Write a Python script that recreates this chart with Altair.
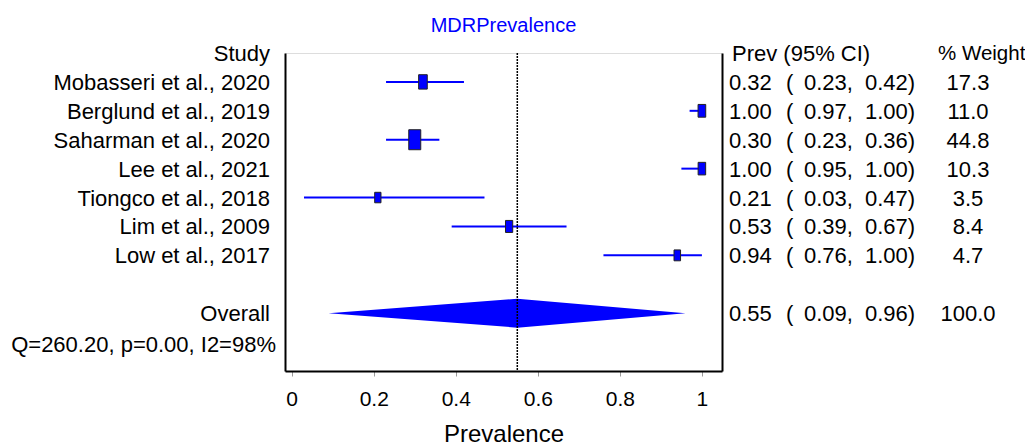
import altair as alt
import pandas as pd

# ---------------- data ----------------
studies = ["Mobasseri et al., 2020", "Berglund et al., 2019", "Saharman et al., 2020",
           "Lee et al., 2021", "Tiongco et al., 2018", "Lim et al., 2009", "Low et al., 2017"]
prev = [0.32, 1.00, 0.30, 1.00, 0.21, 0.53, 0.94]
lower = [0.23, 0.97, 0.23, 0.95, 0.03, 0.39, 0.76]
upper = [0.42, 1.00, 0.36, 1.00, 0.47, 0.67, 1.00]
weight = [17.3, 11.0, 44.8, 10.3, 3.5, 8.4, 4.7]

overall_label = "Overall"
overall_prev = 0.55
overall_lower = 0.09
overall_upper = 0.96
overall_weight = 100.0
heterogeneity = "Q=260.20, p=0.00, I2=98%"

x_ticks = [0, 0.2, 0.4, 0.6, 0.8, 1]
chart_title = "MDRPrevalence"
x_title = "Prevalence"
header_study = "Study"
header_ci = "Prev (95% CI)"
header_weight = "% Weight"

# ---------------- layout ----------------
FONT = "Liberation Sans"
BLUE = "#0000FF"
W, H = 437, 318
study_rows = list(range(1, len(studies) + 1))
overall_row = len(studies) + 2
het_row = overall_row + 1
n_rows = het_row + 1

studies_df = pd.DataFrame({
    "row": study_rows, "study": studies, "prev": prev,
    "lower": lower, "upper": upper, "weight": weight,
})

table_df = pd.DataFrame({
    "row": study_rows + [overall_row],
    "label": studies + [overall_label],
    "prev": prev + [overall_prev],
    "lower": lower + [overall_lower],
    "upper": upper + [overall_upper],
    "weight": weight + [overall_weight],
})
table_df["est_txt"] = table_df["prev"].map(lambda v: f"{v:.2f}")
table_df["lo_txt"] = table_df["lower"].map(lambda v: f"{v:.2f},")
table_df["hi_txt"] = table_df["upper"].map(lambda v: f"{v:.2f})")
table_df["w_txt"] = table_df["weight"].map(lambda v: f"{v:.1f}")
table_df["paren"] = "("

header_df = pd.DataFrame({"row": [0], "study": [header_study],
                          "ci": [header_ci], "w": [header_weight]})
het_df = pd.DataFrame({"row": [het_row], "txt": [heterogeneity]})
title_df = pd.DataFrame({"txt": [chart_title]})

diamond_df = pd.DataFrame({
    "x": [overall_lower, overall_prev, overall_upper],
    "y": [overall_row, overall_row - 0.5, overall_row],
    "y2": [overall_row, overall_row + 0.5, overall_row],
})
ref_df = pd.DataFrame({"x": [overall_prev], "y": [0], "y2": [n_rows]})

xscale = alt.Scale(domain=[-0.0163, 1.049], nice=False, zero=False)
yscale = alt.Scale(domain=[0, n_rows], reverse=True, nice=False, zero=False)

xaxis = alt.Axis(values=x_ticks, format="~g", title=x_title, grid=False,
                 domainColor="black", domainWidth=2, tickColor="#999999",
                 tickWidth=1, tickSize=5, labelFontSize=21, labelFont=FONT,
                 labelColor="black", labelPadding=12, labelFlush=False,
                 titleFontSize=24, titleFont=FONT, titleFontWeight="normal",
                 titleColor="black", titlePadding=13)


def X(field):
    return alt.X(field, type="quantitative", scale=xscale, axis=xaxis)


def Y(field, axis=None):
    return alt.Y(field, type="quantitative", scale=yscale, axis=axis)


left_axis = alt.Axis(orient="left", domain=True, domainColor="black", domainWidth=2,
                     ticks=False, labels=False, grid=False, title=None)
right_axis = alt.Axis(orient="right", domain=True, domainColor="black", domainWidth=2,
                      ticks=False, labels=False, grid=False, title=None)

ci_lines = alt.Chart(studies_df).mark_rule(color=BLUE, strokeWidth=2).encode(
    x=X("lower"), x2="upper", y=Y("row", left_axis))

path = "M-0.6,-1L0.6,-1L0.6,1L-0.6,1Z"
squares = alt.Chart(studies_df).mark_point(
    shape=path, filled=True, color=BLUE, stroke="#222222", strokeWidth=1, opacity=1
).encode(
    x=X("prev"), y=Y("row", right_axis),
    size=alt.Size("weight:Q", scale=alt.Scale(domain=[3.5, 44.8], range=[110, 400], zero=False),
                  legend=None))

diamond = alt.Chart(diamond_df).mark_area(color=BLUE, opacity=1).encode(
    x=X("x"), y=Y("y"), y2="y2")

ref = alt.Chart(ref_df).mark_rule(color="black", strokeDash=[2, 1], strokeWidth=1.5).encode(
    x=X("x"), y=Y("y"), y2="y2")

txt = dict(font=FONT, fontSize=22, baseline="middle", color="black", dy=1)

title_text = alt.Chart(title_df).mark_text(
    align="center", baseline="alphabetic", font=FONT, fontSize=20, color=BLUE
).encode(x=alt.value(W / 2), y=alt.value(-21), text="txt:N")

left_labels = alt.Chart(table_df).mark_text(align="right", **txt).encode(
    x=alt.value(-15), y=Y("row"), text="label:N")
study_head = alt.Chart(header_df).mark_text(align="right", **txt).encode(
    x=alt.value(-15), y=Y("row"), text="study:N")
het_text = alt.Chart(het_df).mark_text(align="right", font=FONT, fontSize=22,
                                       baseline="middle", color="black", dy=3).encode(
    x=alt.value(-9), y=Y("row"), text="txt:N")
ci_head = alt.Chart(header_df).mark_text(align="left", **txt).encode(
    x=alt.value(447), y=Y("row"), text="ci:N")
w_head = alt.Chart(header_df).mark_text(align="left", font=FONT, fontSize=20.5,
                                        baseline="middle", color="black", dy=1).encode(
    x=alt.value(653), y=Y("row"), text="w:N")
est_col = alt.Chart(table_df).mark_text(align="left", **txt).encode(
    x=alt.value(444), y=Y("row"), text="est_txt:N")
paren_col = alt.Chart(table_df).mark_text(align="left", **txt).encode(
    x=alt.value(501), y=Y("row"), text="paren:N")
lo_col = alt.Chart(table_df).mark_text(align="left", **txt).encode(
    x=alt.value(519), y=Y("row"), text="lo_txt:N")
hi_col = alt.Chart(table_df).mark_text(align="left", **txt).encode(
    x=alt.value(580), y=Y("row"), text="hi_txt:N")
w_col = alt.Chart(table_df).mark_text(align="center", **txt).encode(
    x=alt.value(683), y=Y("row"), text="w_txt:N")

chart = alt.layer(
    ci_lines, squares, diamond, ref, title_text,
    left_labels, study_head, het_text, ci_head, w_head,
    est_col, paren_col, lo_col, hi_col, w_col,
).resolve_axis(y="independent").properties(
    width=W, height=H,
    autosize=alt.AutoSizeParams(type="none"),
    padding={"left": 277, "top": 45, "right": 303, "bottom": 74},
).configure_view(stroke=None).configure(font=FONT)

chart.save("out.html", embed_options={"renderer": "svg", "actions": False})
